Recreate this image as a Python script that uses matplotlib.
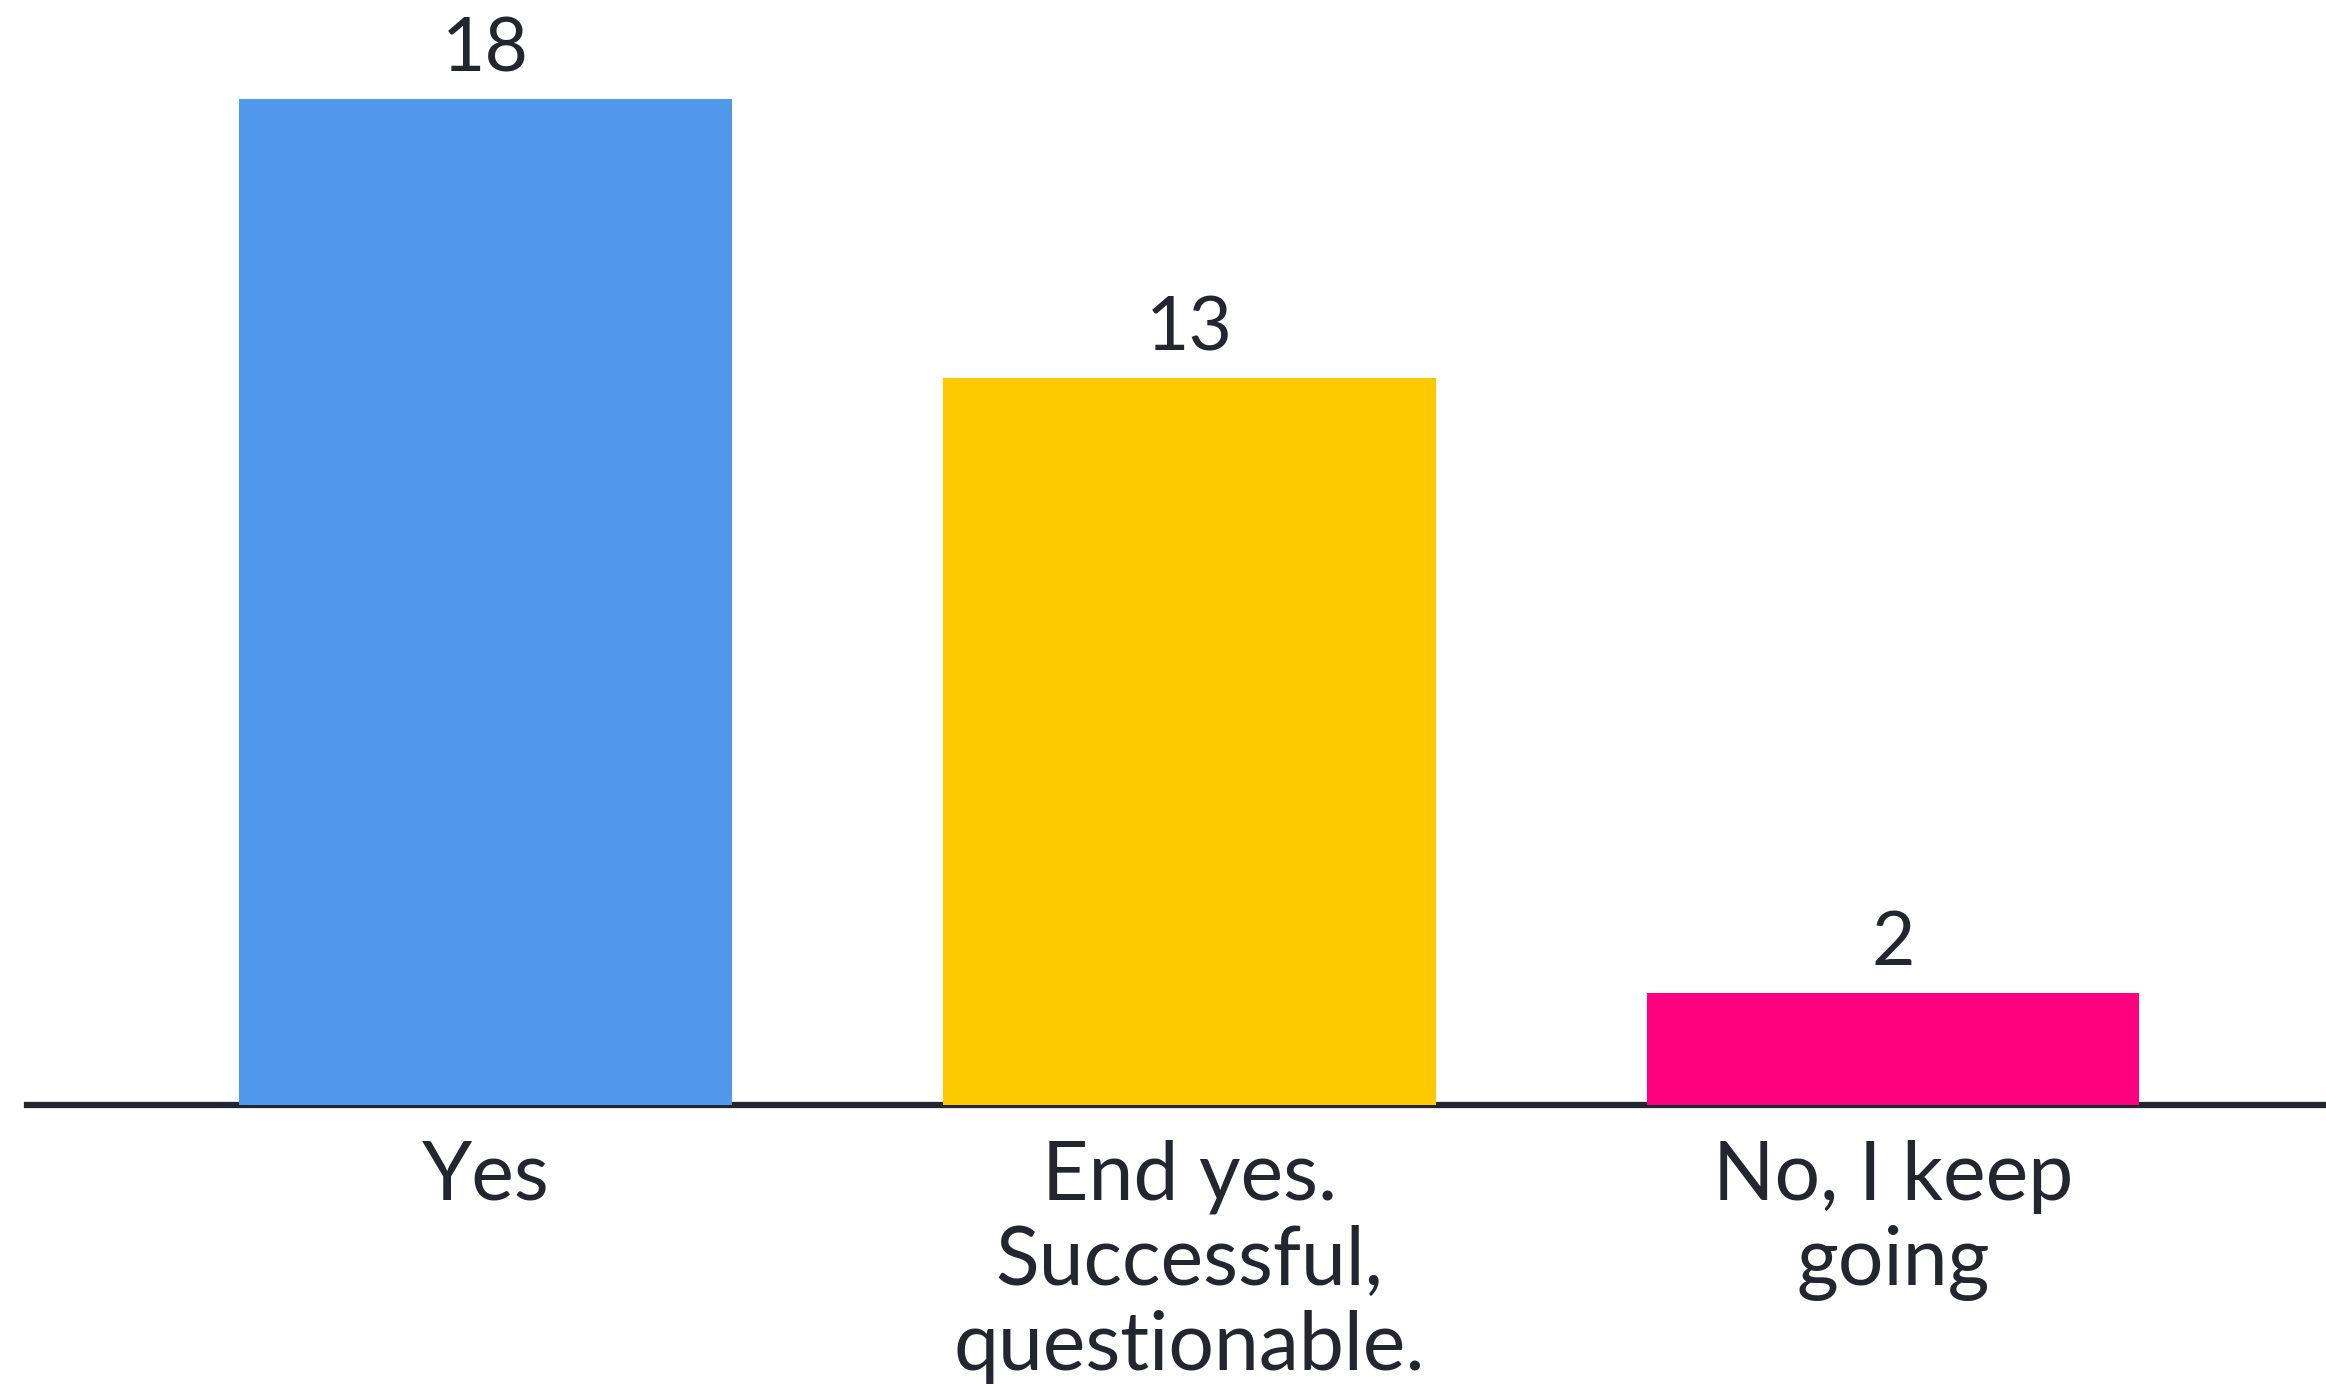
import matplotlib.pyplot as plt

categories = ["Yes", "End yes.\nSuccessful,\nquestionable.", "No, I keep\ngoing"]
counts = [18, 13, 2]
colors = ["#4f98ec", "#fdca00", "#ff007e"]

text_color = "#23262f"
plt.rcParams['font.family'] = ['Lato', 'DejaVu Sans']

fig = plt.figure(figsize=(23.26, 13.88), dpi=100)
ax = fig.add_axes([0.0, 0.2039, 1.0, 0.7961])

x = range(len(categories))
bars = ax.bar(x, counts, width=0.70, color=colors, zorder=3)

ax.set_xlim(-0.690, 2.615)
ax.set_ylim(0, 19.77)

for b, v in zip(bars, counts):
    ax.annotate(str(v), (b.get_x() + b.get_width() / 2, v),
                xytext=(0, 20), textcoords="offset points",
                ha="center", va="baseline", fontsize=54, color=text_color)

ax.set_xticks(list(x))
ax.set_xticklabels(categories, fontsize=58, color=text_color, linespacing=1.18)
ax.tick_params(axis="x", length=0, pad=25)
ax.set_yticks([])

for s in ["top", "left", "right"]:
    ax.spines[s].set_visible(False)
ax.spines["bottom"].set_color(text_color)
ax.spines["bottom"].set_linewidth(4.5)
ax.spines["bottom"].set_bounds(-0.652, 2.615)
ax.spines["bottom"].set_zorder(2)

fig.savefig("out.png", dpi=100, facecolor="white")
